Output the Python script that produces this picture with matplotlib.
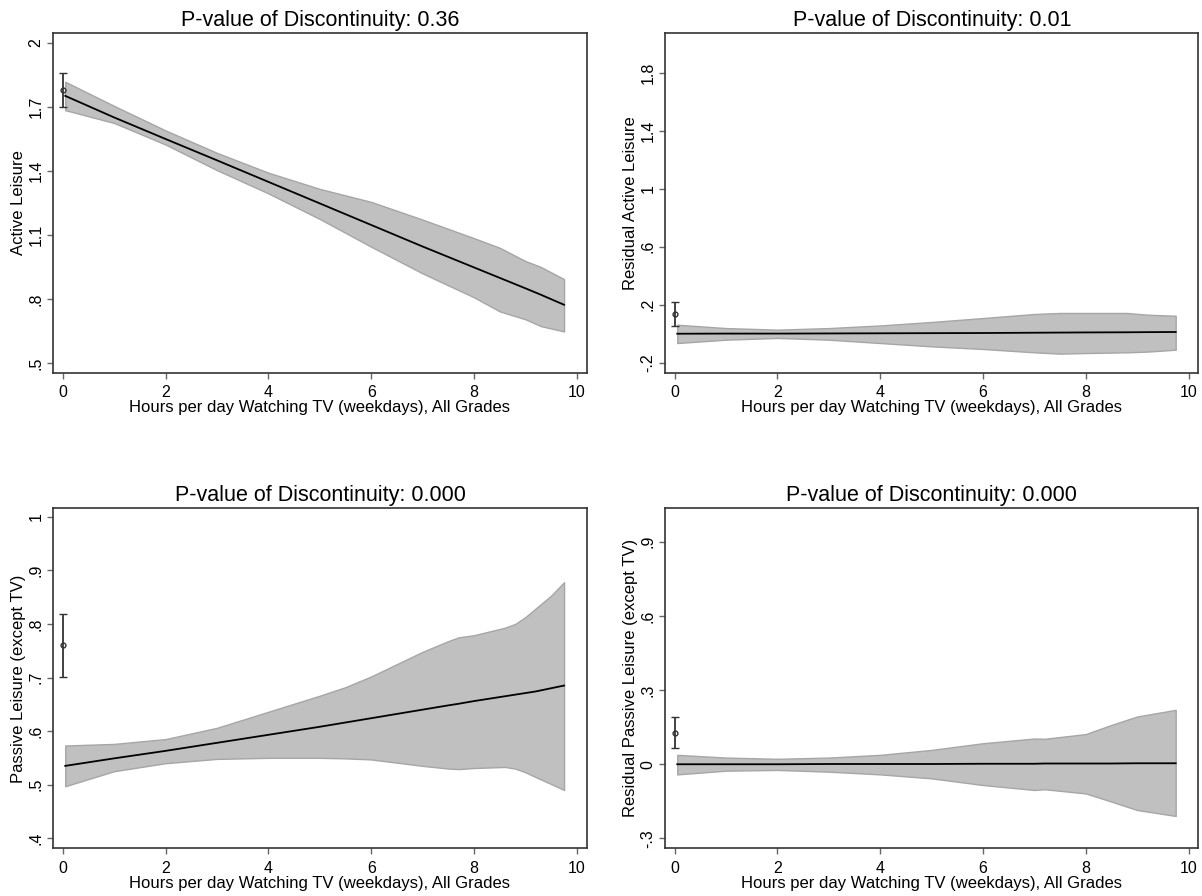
import numpy as np
import matplotlib.pyplot as plt

plt.rcParams['font.family'] = ['Liberation Sans', 'DejaVu Sans']

xlabel = "Hours per day Watching TV (weekdays), All Grades"

# panel 1: Active Leisure
p1_title = "P-value of Discontinuity: 0.36"
p1_ylabel = "Active Leisure"
p1_x = [0.05, 1, 2, 3, 4, 5, 6, 7, 8, 8.5, 9, 9.3, 9.75]
p1_line = [1.752, 1.651, 1.550, 1.450, 1.349, 1.248, 1.147, 1.046, 0.948, 0.899, 0.850, 0.820, 0.773]
p1_upper = [1.818, 1.705, 1.590, 1.485, 1.392, 1.316, 1.255, 1.172, 1.085, 1.040, 0.978, 0.950, 0.893]
p1_lower = [1.685, 1.625, 1.524, 1.404, 1.295, 1.175, 1.045, 0.920, 0.808, 0.742, 0.705, 0.673, 0.648]
p1_point, p1_err = 1.778, 0.080
p1_yticks = [0.5, 0.8, 1.1, 1.4, 1.7, 2.0]
p1_yticklabels = [".5", ".8", "1.1", "1.4", "1.7", "2"]
p1_ylim = (0.455, 2.045)

# panel 2: Residual Active Leisure
p2_title = "P-value of Discontinuity: 0.01"
p2_ylabel = "Residual Active Leisure"
p2_x = [0.05, 1, 2, 3, 4, 5, 6, 7, 7.5, 8, 8.8, 9.2, 9.75]
p2_line = [0.001, 0.002, 0.002, 0.003, 0.004, 0.005, 0.006, 0.008, 0.009, 0.010, 0.011, 0.012, 0.013]
p2_upper = [0.063, 0.040, 0.029, 0.040, 0.058, 0.082, 0.109, 0.137, 0.144, 0.144, 0.144, 0.132, 0.125]
p2_lower = [-0.063, -0.040, -0.028, -0.040, -0.063, -0.086, -0.104, -0.127, -0.136, -0.132, -0.127, -0.122, -0.109]
p2_point, p2_err = 0.135, 0.083
p2_yticks = [-0.2, 0.2, 0.6, 1.0, 1.4, 1.8]
p2_yticklabels = ["-.2", ".2", ".6", "1", "1.4", "1.8"]
p2_ylim = (-0.267, 2.07)

# panel 3: Passive Leisure
p3_title = "P-value of Discontinuity: 0.000"
p3_ylabel = "Passive Leisure (except TV)"
p3_x = [0.05, 1, 2, 3, 4, 5, 5.5, 6, 7, 7.5, 7.7, 8, 8.6, 8.8, 9, 9.2, 9.5, 9.75]
p3_line = [0.535, 0.549, 0.563, 0.578, 0.593, 0.608, 0.616, 0.624, 0.640, 0.648, 0.651, 0.656, 0.665, 0.668, 0.671, 0.674, 0.680, 0.685]
p3_upper = [0.573, 0.576, 0.585, 0.606, 0.636, 0.666, 0.682, 0.702, 0.748, 0.768, 0.775, 0.779, 0.793, 0.800, 0.813, 0.829, 0.853, 0.878]
p3_lower = [0.497, 0.525, 0.540, 0.548, 0.550, 0.550, 0.549, 0.547, 0.535, 0.530, 0.529, 0.531, 0.533, 0.530, 0.523, 0.514, 0.501, 0.490]
p3_point, p3_err = 0.760, 0.059
p3_yticks = [0.4, 0.5, 0.6, 0.7, 0.8, 0.9, 1.0]
p3_yticklabels = [".4", ".5", ".6", ".7", ".8", ".9", "1"]
p3_ylim = (0.381, 1.016)

# panel 4: Residual Passive Leisure
p4_title = "P-value of Discontinuity: 0.000"
p4_ylabel = "Residual Passive Leisure (except TV)"
p4_x = [0.05, 1, 2, 3, 4, 5, 6, 7, 7.2, 8, 8.5, 9, 9.75]
p4_line = [0.0, 0.0, 0.0, 0.001, 0.001, 0.001, 0.002, 0.002, 0.003, 0.003, 0.003, 0.004, 0.004]
p4_upper = [0.038, 0.027, 0.022, 0.027, 0.038, 0.058, 0.085, 0.104, 0.103, 0.122, 0.159, 0.193, 0.220]
p4_lower = [-0.041, -0.026, -0.023, -0.030, -0.041, -0.057, -0.084, -0.104, -0.101, -0.118, -0.151, -0.185, -0.209]
p4_point, p4_err = 0.128, 0.063
p4_yticks = [-0.3, 0.0, 0.3, 0.6, 0.9]
p4_yticklabels = ["-.3", "0", ".3", ".6", ".9"]
p4_ylim = (-0.34, 1.035)

xticks = [0, 2, 4, 6, 8, 10]

panels = [
    (p1_title, p1_ylabel, p1_x, p1_line, p1_upper, p1_lower, p1_point, p1_err, p1_yticks, p1_yticklabels, p1_ylim),
    (p2_title, p2_ylabel, p2_x, p2_line, p2_upper, p2_lower, p2_point, p2_err, p2_yticks, p2_yticklabels, p2_ylim),
    (p3_title, p3_ylabel, p3_x, p3_line, p3_upper, p3_lower, p3_point, p3_err, p3_yticks, p3_yticklabels, p3_ylim),
    (p4_title, p4_ylabel, p4_x, p4_line, p4_upper, p4_lower, p4_point, p4_err, p4_yticks, p4_yticklabels, p4_ylim),
]

# axes rectangles [left, bottom, width, height]
rects = [
    [0.0443, 0.5841, 0.4438, 0.3787],
    [0.5535, 0.5841, 0.4434, 0.3787],
    [0.0443, 0.0532, 0.4438, 0.3795],
    [0.5535, 0.0532, 0.4434, 0.3795],
]

fig = plt.figure(figsize=(12.02, 8.96), dpi=100)

for rect, (title, ylab, x, line, up, lo, pt, err, yt, ytl, ylim) in zip(rects, panels):
    ax = fig.add_axes(rect)
    ax.fill_between(x, lo, up, facecolor='#c0c0c0', edgecolor='#a6a6a6', linewidth=1)
    ax.plot(x, line, color='black', linewidth=1.3)
    ax.errorbar([0], [pt], yerr=[err], fmt='o', color='#333333', mfc='none',
                ms=3.5, mew=1, elinewidth=1.3, capsize=3, capthick=1.3)
    ax.set_xlim(-0.183, 10.19)
    ax.set_ylim(*ylim)
    ax.set_xticks(xticks)
    ax.set_yticks(yt)
    ax.set_yticklabels(ytl, rotation=90, va='center')
    ax.tick_params(labelsize=11.5, length=4, width=1, direction='out', color='#666666')
    ax.tick_params(axis='x', pad=5)
    ax.tick_params(axis='y', pad=3)
    ax.set_title(title, fontsize=15.5, pad=5)
    ax.set_ylabel(ylab, fontsize=12, labelpad=2)
    ax.set_xlabel(xlabel, fontsize=12, labelpad=0)
    for s in ax.spines.values():
        s.set_linewidth(1.2)
        s.set_color('#333333')

fig.savefig('out.png', dpi=100)
